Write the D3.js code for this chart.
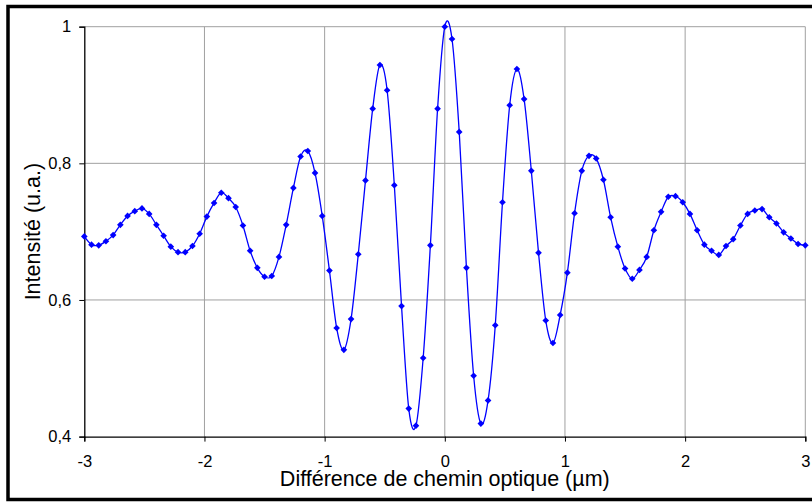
<!DOCTYPE html>
<html lang="fr">
<head>
    <meta charset="UTF-8">
    <title>Interférogramme</title>
    <script src="https://d3js.org/d3.v7.min.js"></script>
    <style>
        body { margin: 0; background: #fff; }
        text {
            font-family: 'Liberation Sans', Arial, sans-serif;
            fill: #000;
        }
    </style>
</head>
<body>
<script>

    const width  = 812;
    const height = 502;

    // différence de chemin optique (µm)
    const diff = [
        -3.00, -2.94, -2.88, -2.82, -2.76, -2.70, -2.64, -2.58, -2.52, -2.46,
        -2.40, -2.34, -2.28, -2.22, -2.16, -2.10, -2.04, -1.98, -1.92, -1.86,
        -1.80, -1.74, -1.68, -1.62, -1.56, -1.50, -1.44, -1.38, -1.32, -1.26,
        -1.20, -1.14, -1.08, -1.02, -0.96, -0.90, -0.84, -0.78, -0.72, -0.66,
        -0.60, -0.54, -0.48, -0.42, -0.36, -0.30, -0.24, -0.18, -0.12, -0.06,
         0.00,  0.06,  0.12,  0.18,  0.24,  0.30,  0.36,  0.42,  0.48,  0.54,
         0.60,  0.66,  0.72,  0.78,  0.84,  0.90,  0.96,  1.02,  1.08,  1.14,
         1.20,  1.26,  1.32,  1.38,  1.44,  1.50,  1.56,  1.62,  1.68,  1.74,
         1.80,  1.86,  1.92,  1.98,  2.04,  2.10,  2.16,  2.22,  2.28,  2.34,
         2.40,  2.46,  2.52,  2.58,  2.64,  2.70,  2.76,  2.82,  2.88,  2.94,
         3.00
    ];

    // intensité (u.a.)
    const intensity = [
        0.693, 0.681, 0.680, 0.686, 0.695, 0.710, 0.723, 0.730, 0.734, 0.726,
        0.710, 0.694, 0.678, 0.670, 0.670, 0.679, 0.697, 0.722, 0.742, 0.757,
        0.749, 0.736, 0.709, 0.672, 0.647, 0.634, 0.635, 0.663, 0.710, 0.764,
        0.810, 0.818, 0.786, 0.723, 0.643, 0.559, 0.527, 0.572, 0.667, 0.775,
        0.880, 0.944, 0.907, 0.768, 0.591, 0.441, 0.416, 0.515, 0.680, 0.880,
        1.000, 0.982, 0.846, 0.647, 0.489, 0.419, 0.453, 0.563, 0.743, 0.885,
        0.938, 0.894, 0.789, 0.669, 0.570, 0.537, 0.578, 0.640, 0.727, 0.789,
        0.811, 0.807, 0.776, 0.721, 0.678, 0.646, 0.631, 0.644, 0.663, 0.702,
        0.729, 0.751, 0.752, 0.743, 0.726, 0.702, 0.681, 0.672, 0.666, 0.679,
        0.689, 0.709, 0.726, 0.731, 0.733, 0.721, 0.712, 0.699, 0.690, 0.682,
        0.680
    ];

    const xTicks = [-3, -2, -1, 0, 1, 2, 3];
    const xTickLabels = ['-3', '-2', '-1', '0', '1', '2', '3'];
    const yTicks = [0.4, 0.6, 0.8, 1];
    const yTickLabels = ['0,4', '0,6', '0,8', '1'];

    const points = diff.map((d, i) => ({x: d, y: intensity[i]}));

    const plot = {left: 84.3, right: 805.3, top: 26.7, bottom: 436.6};

    const x = d3.scaleLinear()
            .domain([-3, 3])
            .range([plot.left, plot.right]);
    const y = d3.scaleLinear()
            .domain([0.4, 1])
            .range([plot.bottom, plot.top]);

    const svg = d3.select("body")
            .append("svg")
            .attr("width", width)
            .attr("height", height);

    // cadre
    svg.append("rect")
            .attr("x", 8)
            .attr("y", 6.5)
            .attr("width", 830)
            .attr("height", 493)
            .attr("fill", "#fff")
            .attr("stroke", "#000")
            .attr("stroke-width", 3.5);

    // grille
    svg.append("g")
            .selectAll("line")
            .data(xTicks.slice(1))
            .enter()
            .append("line")
            .attr("x1", d => x(d)).attr("x2", d => x(d))
            .attr("y1", plot.top).attr("y2", plot.bottom)
            .attr("stroke", "#a0a0a0");

    svg.append("g")
            .selectAll("line")
            .data(yTicks.slice(1))
            .enter()
            .append("line")
            .attr("x1", plot.left).attr("x2", plot.right)
            .attr("y1", d => y(d)).attr("y2", d => y(d))
            .attr("stroke", "#a0a0a0");

    // axes
    const xAxis = svg.append("g")
            .attr("transform", "translate(0," + plot.bottom + ")")
            .call(d3.axisBottom(x)
                    .tickValues(xTicks)
                    .tickSize(5)
                    .tickPadding(14)
                    .tickFormat((d, i) => xTickLabels[i]));

    const yAxis = svg.append("g")
            .attr("transform", "translate(" + plot.left + ",0)")
            .call(d3.axisLeft(y)
                    .tickValues(yTicks)
                    .tickSize(5)
                    .tickPadding(8)
                    .tickFormat((d, i) => yTickLabels[i]));

    [xAxis, yAxis].forEach(a => {
        a.select(".domain").attr("stroke", "#000").attr("stroke-width", 1.3);
        a.selectAll(".tick line").attr("stroke", "#000");
        a.selectAll(".tick text")
                .style("font-family", "'Liberation Sans', Arial, sans-serif")
                .style("font-size", "16.5px");
    });

    // courbe lissée
    const line = d3.line()
            .x(d => x(d.x))
            .y(d => y(d.y))
            .curve(d3.curveCatmullRom.alpha(0));

    svg.append("path")
            .datum(points)
            .attr("d", line)
            .attr("fill", "none")
            .attr("stroke", "#0000ff")
            .attr("stroke-width", 1.3);

    svg.append("g")
            .selectAll("path")
            .data(points)
            .enter()
            .append("path")
            .attr("d", d3.symbol().type(d3.symbolSquare).size(22))
            .attr("transform", d => "translate(" + x(d.x) + "," + y(d.y) + ") rotate(45)")
            .attr("fill", "#0000ff");

    // titres
    svg.append("text")
            .text("Différence de chemin optique (µm)")
            .attr("x", (plot.left + plot.right) / 2)
            .attr("y", 486)
            .attr("text-anchor", "middle")
            .style("font-size", "21.5px");

    svg.append("text")
            .text("Intensité (u.a.)")
            .attr("transform", "translate(40," + (plot.top + plot.bottom) / 2 + ") rotate(-90)")
            .attr("text-anchor", "middle")
            .style("font-size", "21.5px");

</script>
</body>
</html>
